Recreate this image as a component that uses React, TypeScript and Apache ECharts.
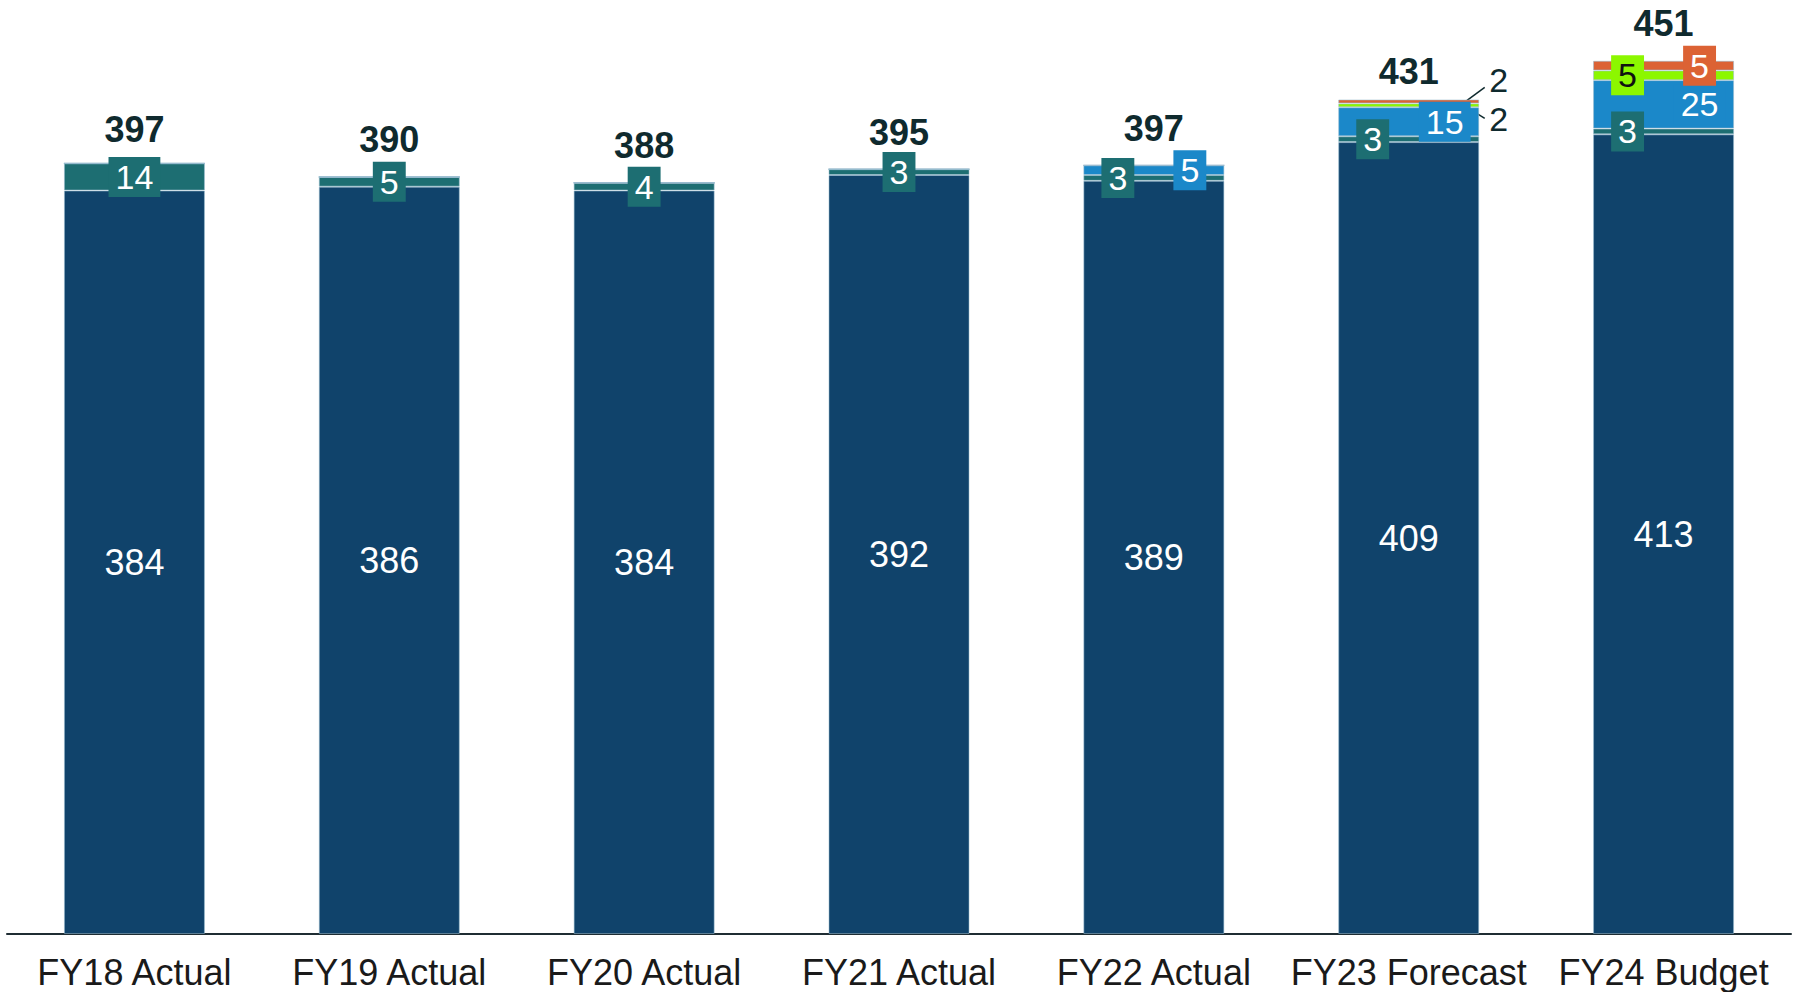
import React, { useEffect, useRef } from "react";
import * as echarts from "echarts";

const categories = ["FY18 Actual", "FY19 Actual", "FY20 Actual", "FY21 Actual", "FY22 Actual", "FY23 Forecast", "FY24 Budget"];
const baseValues = [384, 386, 384, 392, 389, 409, 413];
const tealValues = [14, 5, 4, 3, 3, 3, 3];
const blueValues = [0, 0, 0, 0, 5, 15, 25];
const greenValues = [0, 0, 0, 0, 0, 2, 5];
const orangeValues = [0, 0, 0, 0, 0, 2, 5];
const totals = [397, 390, 388, 395, 397, 431, 451];

const NAVY = "#10436b";
const TEAL = "#1d6e72";
const BLUE = "#1b88c9";
const GREEN = "#8cf700";
const ORANGE = "#dc6234";
const DARK = "#0f2a2e";
const FONT = "'Liberation Sans', Arial, sans-serif";

export default function App() {
  const ref = useRef<HTMLDivElement>(null);
  useEffect(() => {
    if (!ref.current) return;
    const chart = echarts.init(ref.current, undefined, { renderer: "svg" });
    const border = { borderColor: "rgba(150,185,205,0.55)", borderWidth: 1 };
    const boxLabel = (bg: string, color = "#ffffff") => ({
      show: true,
      position: "inside",
      fontFamily: FONT,
      fontSize: 34,
      lineHeight: 34,
      color,
      backgroundColor: bg,
      padding: [3, 7],
    });
    const tealData = tealValues.map((v, i) => ({
      value: v,
      label: { offset: [blueValues[i] > 0 ? -36 : 0, 0] },
    }));
    const blueData = blueValues.map((v) => ({
      value: v,
      label: { show: v > 0, offset: [36, 0] },
    }));
    const greenData = greenValues.map((v) => {
      if (v === 0) return { value: v, label: { show: false } };
      if (v < 3)
        return { value: v, label: { offset: [90, 14], backgroundColor: "transparent", color: DARK } };
      return { value: v, label: { offset: [-36, 0] } };
    });
    const orangeData = orangeValues.map((v) => {
      if (v === 0) return { value: v, label: { show: false } };
      if (v < 3)
        return { value: v, label: { offset: [90, -21], backgroundColor: "transparent", color: DARK } };
      return { value: v, label: { offset: [36, 0] } };
    });
    const totalOffsets = [[0, 3], [0, 0], [0, 0], [0, 0], [0, 0], [0, 9], [0, 0]];
    const totalData = totals.map((t, i) => ({ value: 0, label: { offset: totalOffsets[i] } }));

    chart.setOption({
      animation: false,
      grid: { left: 7, right: 9, top: 24, bottom: 58 },
      xAxis: {
        type: "category",
        data: categories,
        axisLine: { lineStyle: { color: "#1f2d33", width: 2 } },
        axisTick: { show: false },
        axisLabel: { interval: 0, fontFamily: FONT, fontSize: 36, color: "#1a1a1a", margin: 20 },
      },
      yAxis: { type: "value", min: 0, max: 470, show: false, splitLine: { show: false } },
      series: [
        {
          name: "base",
          type: "bar",
          stack: "s",
          barWidth: 141,
          data: baseValues,
          itemStyle: { color: NAVY, ...border },
          label: { show: true, position: "inside", fontFamily: FONT, fontSize: 36, color: "#ffffff" },
        },
        { name: "teal", type: "bar", stack: "s", data: tealData, itemStyle: { color: TEAL, ...border }, label: boxLabel(TEAL) },
        { name: "blue", type: "bar", stack: "s", data: blueData, itemStyle: { color: BLUE, ...border }, label: boxLabel(BLUE) },
        { name: "green", type: "bar", stack: "s", data: greenData, itemStyle: { color: GREEN, ...border }, label: boxLabel(GREEN, "#111111") },
        { name: "orange", type: "bar", stack: "s", data: orangeData, itemStyle: { color: ORANGE, ...border }, label: boxLabel(ORANGE) },
        {
          name: "total",
          type: "bar",
          stack: "s",
          data: totalData,
          itemStyle: { color: "transparent" },
          label: {
            show: true,
            position: "top",
            distance: 19,
            fontFamily: FONT,
            fontSize: 36,
            fontWeight: "bold",
            color: DARK,
            formatter: (p: any) => String(totals[p.dataIndex]),
          },
        },
      ],
    });

    // leader lines for the small outside labels
    const graphics: any[] = [];
    categories.forEach((_, i) => {
      const stackBelowGreen = baseValues[i] + tealValues[i] + blueValues[i];
      if (orangeValues[i] > 0 && orangeValues[i] < 3) {
        const yMid = stackBelowGreen + greenValues[i] + orangeValues[i] / 2;
        const p = chart.convertToPixel({ xAxisIndex: 0, yAxisIndex: 0 }, [i, yMid]) as number[];
        graphics.push({
          type: "line",
          shape: { x1: p[0] + 57, y1: p[1], x2: p[0] + 76, y2: p[1] - 14 },
          style: { stroke: DARK, lineWidth: 1.5 },
        });
      }
      if (greenValues[i] > 0 && greenValues[i] < 3) {
        const yMid = stackBelowGreen + greenValues[i] / 2;
        const p = chart.convertToPixel({ xAxisIndex: 0, yAxisIndex: 0 }, [i, yMid]) as number[];
        graphics.push({
          type: "line",
          shape: { x1: p[0] + 60, y1: p[1] + 3, x2: p[0] + 76, y2: p[1] + 13 },
          style: { stroke: DARK, lineWidth: 1.5 },
        });
      }
    });
    chart.setOption({ graphic: graphics });

    return () => chart.dispose();
  }, []);
  return (
    <div
      ref={ref}
      style={{ position: "absolute", left: 0, top: 0, width: 1800, height: 992, background: "#ffffff" }}
    />
  );
}
